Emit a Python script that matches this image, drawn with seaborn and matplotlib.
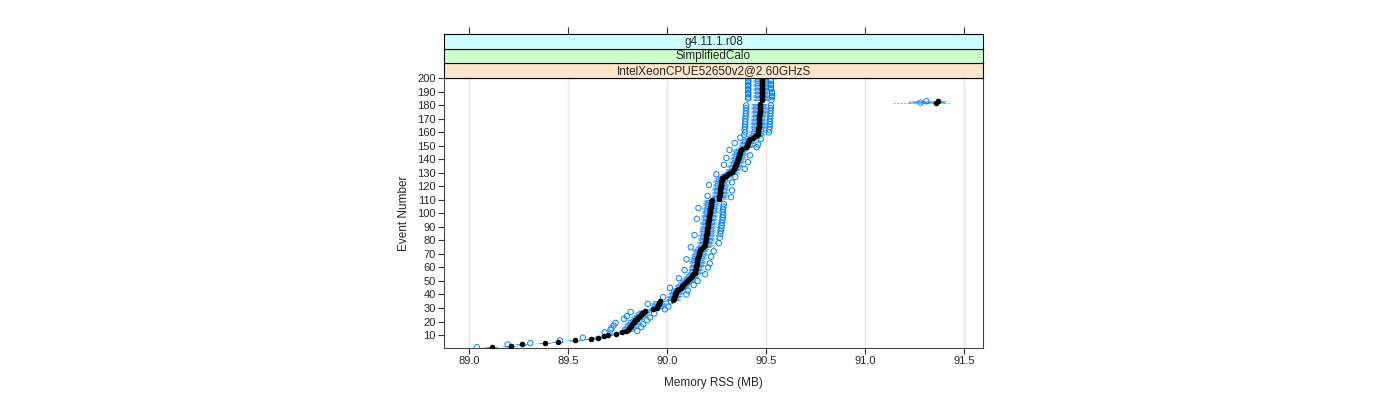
import numpy as np
import pandas as pd
import matplotlib
matplotlib.use("Agg")
import matplotlib.pyplot as plt
import seaborn as sns

# %% data
events = list(range(1, 201))

median_rss = [
    89.115, 89.21, 89.27, 89.385, 89.45, 89.535, 89.615, 89.65, 89.68, 89.70,
    89.745, 89.775, 89.795, 89.805, 89.81, 89.815, 89.82, 89.825, 89.83, 89.835,
    89.84, 89.848, 89.855, 89.862, 89.868, 89.875, 89.882, 89.89, 89.93, 89.95,
    89.952, 89.955, 89.958, 89.96, 89.965, 90.03, 90.033, 90.036, 90.04, 90.043,
    90.046, 90.048, 90.05, 90.06, 90.07, 90.075, 90.08, 90.088, 90.094, 90.10,
    90.108, 90.115, 90.12, 90.126, 90.133, 90.14, 90.142, 90.144, 90.146, 90.148,
    90.149, 90.15, 90.151, 90.152, 90.153, 90.154, 90.155, 90.158, 90.16, 90.162,
    90.164, 90.166, 90.168, 90.17, 90.18, 90.185, 90.19, 90.192, 90.194, 90.195,
    90.196, 90.197, 90.198, 90.199, 90.20, 90.201, 90.202, 90.203, 90.204, 90.205,
    90.206, 90.207, 90.208, 90.209, 90.21, 90.211, 90.212, 90.213, 90.214, 90.215,
    90.216, 90.217, 90.218, 90.219, 90.22, 90.221, 90.222, 90.223, 90.224, 90.226,
    90.262, 90.264, 90.265, 90.266, 90.267, 90.268, 90.269, 90.27, 90.27, 90.271,
    90.272, 90.273, 90.274, 90.275, 90.276, 90.277, 90.29, 90.30, 90.31, 90.32,
    90.328, 90.333, 90.338, 90.342, 90.345, 90.348, 90.351, 90.354, 90.356, 90.358,
    90.36, 90.362, 90.364, 90.366, 90.368, 90.37, 90.376, 90.38, 90.398, 90.403,
    90.405, 90.407, 90.41, 90.415, 90.42, 90.435, 90.445, 90.455, 90.458, 90.46,
    90.461, 90.462, 90.462, 90.463, 90.464, 90.464, 90.465, 90.465, 90.466, 90.466,
    90.467, 90.467, 90.467, 90.468, 90.468, 90.468, 90.469, 90.469, 90.47, 90.47,
    90.47, 91.36, 91.37, 90.478, 90.48, 90.48, 90.48, 90.48, 90.48, 90.48,
    90.48, 90.48, 90.48, 90.48, 90.48, 90.48, 90.48, 90.48, 90.48, 90.48,
]

# spread around the median, one value per block of 10 events
q1_gap = [0.025, 0.03, 0.03, 0.03, 0.03, 0.03, 0.03, 0.03, 0.03, 0.03,
          0.03, 0.03, 0.03, 0.03, 0.03, 0.035, 0.035, 0.035, 0.035, 0.035]
q3_gap = [0.02, 0.025, 0.025, 0.025, 0.025, 0.025, 0.03, 0.03, 0.03, 0.03,
          0.03, 0.03, 0.025, 0.025, 0.025, 0.025, 0.025, 0.025, 0.025, 0.025]
whisk_lo_gap = [0.045, 0.05, 0.045, 0.04, 0.04, 0.04, 0.04, 0.045, 0.045, 0.045,
                0.045, 0.045, 0.045, 0.045, 0.045, 0.05, 0.055, 0.055, 0.055, 0.055]
whisk_hi_gap = [0.035, 0.04, 0.045, 0.04, 0.04, 0.045, 0.05, 0.055, 0.055, 0.055,
                0.05, 0.045, 0.045, 0.045, 0.045, 0.045, 0.045, 0.045, 0.04, 0.04]
flier_lo_gap = [0.075, 0.09, 0.065, 0.055, 0.055, 0.055, 0.055, 0.06, 0.06, 0.06,
                0.06, 0.06, 0.06, 0.06, 0.06, 0.065, 0.07, 0.07, 0.07, 0.07]
flier_hi_gap = [0.0, 0.055, 0.06, 0.055, 0.055, 0.06, 0.065, 0.07, 0.07, 0.07,
                0.065, 0.06, 0.055, 0.055, 0.055, 0.055, 0.055, 0.055, 0.05, 0.045]
# events whose low / high outlier is visible (the rest sit inside the whiskers)
flier_lo_events = [1, 3, 4, 6, 8, 12, 14, 15, 17, 19, 22, 24, 27, 33, 38, 45, 52,
                   58, 66, 75, 84, 96, 104, 113, 121, 129, 136, 141, 147, 152,
                   156, 158, 160, 162, 164, 166, 168, 170, 172, 174, 176, 178,
                   180, 185, 186, 188, 189, 191, 192, 194, 195, 197, 198, 200]
flier_hi_events = [13, 16, 18, 21, 23, 26, 29, 31, 35, 40, 43, 47, 50, 55, 60,
                   63, 68, 72, 78, 82, 85, 87, 89, 91, 93, 95, 97, 99, 101, 103,
                   105, 107, 112, 117, 123, 127, 133, 138, 143, 149, 151, 155,
                   160, 162, 164, 166, 168, 170, 172, 174, 176, 178, 180, 184,
                   186, 187, 189, 190, 192, 193, 195, 196, 198, 199]

# the two odd events far to the right
odd_events = [182, 183]
odd_q1 = [91.22, 91.25]
odd_q3 = [91.40, 91.40]
odd_whisk_lo = [91.14, 91.21]
odd_whisk_hi = [91.43, 91.42]
odd_fliers = [[91.28], [91.31]]

x_ticks = [89.0, 89.5, 90.0, 90.5, 91.0, 91.5]
y_ticks = list(range(10, 201, 10))
strip_labels = ["IntelXeonCPUE52650v2@2.60GHzS", "SimplifiedCalo", "g4.11.1.r08"]
strip_colors = ["#ffe5cc", "#ccffcc", "#ccffff"]

BLUE = "#0080ff"

# %% build box stats
stats = []
flier_rows = []
for i, ev in enumerate(events):
    b = i // 10
    med = median_rss[i]
    if ev in odd_events:
        k = odd_events.index(ev)
        st = dict(med=med, q1=odd_q1[k], q3=odd_q3[k],
                  whislo=odd_whisk_lo[k], whishi=odd_whisk_hi[k], fliers=[])
        for f in odd_fliers[k]:
            flier_rows.append((ev, f))
    else:
        st = dict(med=med, q1=med - q1_gap[b], q3=med + q3_gap[b],
                  whislo=med - whisk_lo_gap[b], whishi=med + whisk_hi_gap[b], fliers=[])
        if ev in flier_lo_events:
            flier_rows.append((ev, med - flier_lo_gap[b]))
        if ev in flier_hi_events and flier_hi_gap[b] > 0:
            flier_rows.append((ev, med + flier_hi_gap[b]))
    stats.append(st)

fliers = pd.DataFrame(flier_rows, columns=["event", "rss"])
medians = pd.DataFrame({"event": events, "rss": median_rss})

# %% plot
sns.set_style("white")
plt.rcParams["font.family"] = ["Liberation Sans", "DejaVu Sans"]

fig = plt.figure(figsize=(14, 4), dpi=100)
W, H = 1400.0, 400.0
left, right = 444 / W, 983 / W
p_top, p_bot = 77.5, 348.0
ax = fig.add_axes([left, 1 - p_bot / H, right - left, (p_bot - p_top) / H])

for xt in x_ticks:
    ax.axvline(xt, color="#e6e6e6", lw=1, zorder=0)

# thin box outlines stacked 1.35 px apart give the striped look of the original
bxp_kw = dict(positions=events, widths=0.35, showcaps=False, showfliers=False,
              patch_artist=False,
              boxprops=dict(color=BLUE, lw=0.45, alpha=0.8),
              whiskerprops=dict(color=BLUE, lw=0.5, alpha=0.8, linestyle=(0, (3, 2))),
              medianprops=dict(linewidth=0))
try:
    ax.bxp(stats, orientation="horizontal", **bxp_kw)
except TypeError:
    ax.bxp(stats, vert=False, **bxp_kw)

sns.scatterplot(data=fliers, x="rss", y="event", ax=ax, marker="o", s=15,
                facecolor="none", edgecolor=BLUE, linewidth=0.7, zorder=3)
sns.scatterplot(data=medians, x="rss", y="event", ax=ax, marker="o", s=16,
                color="black", edgecolor="black", linewidth=0, zorder=4)

ax.set_xlim(88.874, 91.596)
ax.set_ylim(0.4, 200.6)
ax.set_xticks(x_ticks)
ax.set_xticklabels([f"{v:.1f}" for v in x_ticks])
ax.set_yticks(y_ticks)
ax.set_yticklabels([str(v) for v in y_ticks])
ax.set_xlabel("")
ax.set_ylabel("")
ax.tick_params(axis="both", which="both", direction="out", length=4, width=0.8,
               color="#333333", labelsize=8, pad=2, left=True, bottom=True)
for sp in ax.spines.values():
    sp.set_color("#444444")
    sp.set_linewidth(0.8)

# strips above the panel
strip_h = 14.5
for j, (lab, col) in enumerate(zip(strip_labels, strip_colors)):
    bot = p_top - j * strip_h
    sax = fig.add_axes([left, 1 - bot / H, right - left, strip_h / H])
    sax.set_facecolor(col)
    sax.set_xlim(ax.get_xlim())
    sax.set_ylim(0, 1)
    sax.set_yticks([])
    if j == len(strip_labels) - 1:
        sax.set_xticks(x_ticks)
        sax.tick_params(axis="x", top=True, bottom=False, labeltop=False,
                        labelbottom=False, direction="out", length=5,
                        width=0.8, color="#333333")
    else:
        sax.set_xticks([])
    for sp in sax.spines.values():
        sp.set_color("black")
        sp.set_linewidth(0.8)
    sax.text(0.5, 0.45, lab, transform=sax.transAxes, ha="center", va="center",
             fontsize=8.5)

fig.text((444 + 983) / 2 / W, 1 - 383 / H, "Memory RSS (MB)", ha="center",
         va="center", fontsize=8.5)
fig.text(404 / W, 1 - 213 / H, "Event Number", ha="center", va="center",
         rotation=90, fontsize=8.5)

fig.savefig("out.png", dpi=100, facecolor="white")
